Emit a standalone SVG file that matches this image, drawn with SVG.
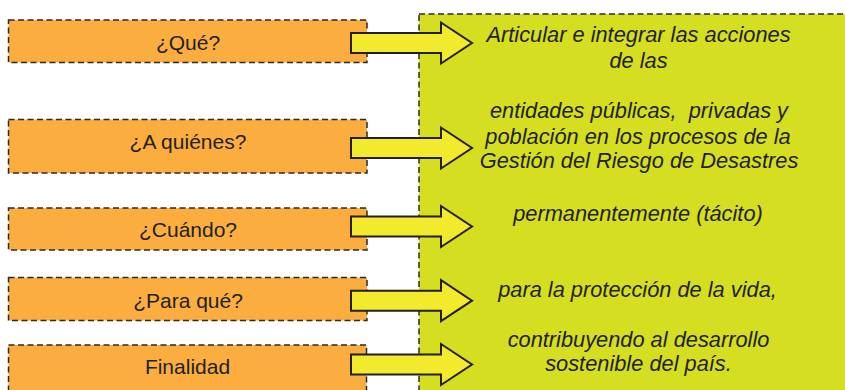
<svg xmlns="http://www.w3.org/2000/svg" xmlns:xlink="http://www.w3.org/1999/xlink" width="845" height="390" viewBox="0 0 845 390">
<style>
.q{fill:#FBAE3F;stroke:#2b2b2b;stroke-width:1.5;stroke-dasharray:6 3.5}
.panel{fill:#D5DE21;stroke:#2b2b2b;stroke-width:1.5;stroke-dasharray:6 3.5}
.ql{font-family:"Liberation Sans",Arial,sans-serif;font-size:21px;fill:#231F20;text-anchor:middle}
.al{font-family:"Liberation Sans",Arial,sans-serif;font-size:21.8px;font-style:italic;fill:#231F20;text-anchor:middle}
.arr{fill:#F2EA2C;stroke:#231F20;stroke-width:2;stroke-linejoin:miter}
</style>
<defs>
<path id="arrow" d="M351,-10 H441 V-20.5 L472,0 L441,20.5 V10 H351 Z"/>
</defs>
<rect width="845" height="390" fill="#fff"/>
<g id="answers">
<rect class="panel" x="419" y="14" width="440" height="390"/>
<text class="al" x="638.5" y="41.7">Articular e integrar las acciones</text>
<text class="al" x="638.5" y="68.3">de las</text>
<text class="al" x="639" y="118.3" xml:space="preserve">entidades públicas,  privadas y</text>
<text class="al" x="638" y="144">población en los procesos de la</text>
<text class="al" x="639" y="168.3">Gestión del Riesgo de Desastres</text>
<text class="al" x="638" y="220.7">permanentemente (tácito)</text>
<text class="al" x="637.5" y="296.7">para la protección de la vida,</text>
<text class="al" x="638.5" y="347.3">contribuyendo al desarrollo</text>
<text class="al" x="638.5" y="371">sostenible del país.</text>
</g>
<g id="que"><rect class="q" x="8.5" y="20" width="358.5" height="42.5"/><text class="ql" x="188" y="50">¿Qué?</text></g>
<g id="aquienes"><rect class="q" x="8.5" y="119.5" width="358.5" height="53.5"/><text class="ql" x="188" y="149">¿A quiénes?</text></g>
<g id="cuando"><rect class="q" x="8.5" y="208" width="358.5" height="42"/><text class="ql" x="188" y="237.3">¿Cuándo?</text></g>
<g id="paraque"><rect class="q" x="8.5" y="277.5" width="358.5" height="43"/><text class="ql" x="188" y="307.7">¿Para qué?</text></g>
<g id="finalidad"><rect class="q" x="8.5" y="345" width="358" height="50"/><text class="ql" x="187.5" y="374.3">Finalidad</text></g>
<g id="connectors">
<use xlink:href="#arrow" class="arr" transform="translate(0,43)"/>
<use xlink:href="#arrow" class="arr" transform="translate(0,148)"/>
<use xlink:href="#arrow" class="arr" transform="translate(0,226.5)"/>
<use xlink:href="#arrow" class="arr" transform="translate(0,300.7)"/>
<use xlink:href="#arrow" class="arr" transform="translate(0,364.5)"/>
</g>
</svg>
